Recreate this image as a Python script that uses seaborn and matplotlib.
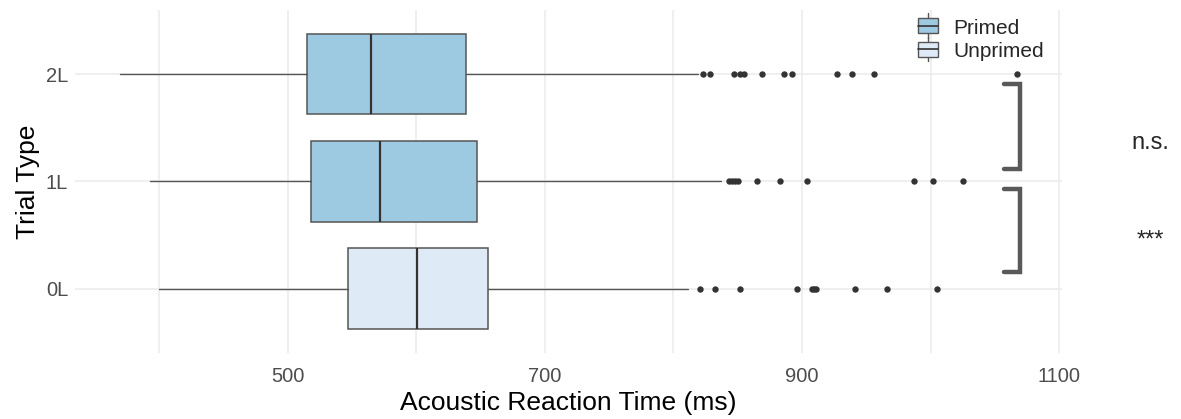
import pandas as pd
import matplotlib.pyplot as plt
import seaborn as sns
from matplotlib.patches import Patch, Rectangle
from matplotlib.lines import Line2D
from matplotlib.legend_handler import HandlerPatch

# Box summary values (ms)
trial_types = ["2L", "1L", "0L"]
condition = ["Primed", "Primed", "Unprimed"]
whisker_low = [369.6, 393.0, 399.7]
q1 = [515.0, 518.4, 547.0]
median = [564.7, 571.7, 600.3]
q3 = [638.7, 647.3, 656.1]
whisker_high = [819.3, 837.4, 811.5]

# Outliers
outliers_2L = [822.8, 828.3, 847.0, 852.2, 854.8, 869.1, 886.0, 892.5, 927.5, 938.7, 956.1, 1067.0]
outliers_1L = [843.1, 845.7, 848.3, 850.1, 864.7, 882.9, 904.2, 987.3, 1001.8, 1025.4]
outliers_0L = [820.5, 832.7, 851.7, 896.4, 908.1, 909.6, 911.2, 941.3, 965.8, 1004.7]

x_ticks = [500, 700, 900, 1100]
x_minor = [400, 600, 800, 1000]

sig_labels = ["n.s.", "***"]

palette = {"Primed": "#9ECAE1", "Unprimed": "#DEEBF7"}


class BoxKey(HandlerPatch):
    # little boxplot glyph like the ggplot key
    def create_artists(self, legend, orig, xd, yd, w, h, fontsize, trans):
        cx = xd + w / 2
        box = Rectangle((xd, yd), w, h, facecolor=orig.get_facecolor(),
                        edgecolor="#555555", linewidth=1.0, transform=trans)
        mid = Line2D([xd, xd + w], [yd + h / 2, yd + h / 2], color="#333333", lw=1.2, transform=trans)
        wh = Line2D([cx, cx], [yd - h * 0.3, yd + h * 1.3], color="#555555", lw=1.0, transform=trans)
        return [wh, box, mid]


sns.set_theme(style="whitegrid")
plt.rcParams["font.family"] = ["Liberation Sans", "DejaVu Sans"]

fig = plt.figure(figsize=(11.81, 4.19), dpi=100)
ax = fig.add_axes([0.0635, 0.158, 0.8355, 0.818])

rows = []
for t, vals in zip(trial_types, [outliers_2L, outliers_1L, outliers_0L]):
    for v in vals:
        rows.append((t, v))
df_out = pd.DataFrame(rows, columns=["Trial Type", "RT"])

sns.stripplot(data=df_out, x="RT", y="Trial Type", order=trial_types, jitter=False,
              color="#333333", size=4.6, linewidth=0, ax=ax, zorder=3)

stats = []
for i in range(len(trial_types)):
    stats.append(dict(med=median[i], q1=q1[i], q3=q3[i],
                      whislo=whisker_low[i], whishi=whisker_high[i], fliers=[]))

bp = ax.bxp(stats, positions=range(len(trial_types)), orientation="horizontal",
            widths=0.75, patch_artist=True, showcaps=False, manage_ticks=False,
            boxprops=dict(edgecolor="#555555", linewidth=1.1),
            medianprops=dict(color="#333333", linewidth=1.6),
            whiskerprops=dict(color="#555555", linewidth=1.0),
            zorder=2)
for patch, c in zip(bp["boxes"], condition):
    patch.set_facecolor(palette[c])

ax.set_xlim(334.7, 1102)
ax.set_ylim(2.6, -0.6)
ax.set_xticks(x_ticks)
ax.set_xticks(x_minor, minor=True)
ax.set_yticks(range(len(trial_types)))
ax.set_yticklabels(trial_types)
ax.grid(True, which="both", axis="x", color="#EBEBEB", linewidth=1.1)
ax.grid(True, which="major", axis="y", color="#EBEBEB", linewidth=1.1)
ax.tick_params(axis="both", which="both", length=0, labelsize=14.5, labelcolor="#4D4D4D")
ax.tick_params(axis="x", pad=10.5)
ax.tick_params(axis="y", pad=5)
for s in ax.spines.values():
    s.set_visible(False)

ax.set_xlabel("Acoustic Reaction Time (ms)", fontsize=19, color="black", labelpad=3)
ax.set_ylabel("Trial Type", fontsize=19, color="black", labelpad=4)

# significance brackets
br_x0, br_x1 = 1057.0, 1069.6
for top, bot in [(0.093, 0.888), (1.075, 1.85)]:
    ax.plot([br_x0, br_x1, br_x1, br_x0], [top, top, bot, bot], color="#595959",
            linewidth=3.2, solid_joinstyle="miter", clip_on=False, zorder=4)
for y, lab in zip([0.64, 1.55], sig_labels):
    ax.text(1171, y, lab, fontsize=17, ha="center", va="center", clip_on=False)

handles = [Patch(facecolor=palette[k], label=k) for k in ["Primed", "Unprimed"]]
ax.legend(handles=handles, loc="upper left", bbox_to_anchor=(0.854, 0.975), frameon=False,
          fontsize=15, handlelength=1.0, handleheight=0.75, handletextpad=0.7,
          labelspacing=0.22, borderaxespad=0, borderpad=0,
          handler_map={Patch: BoxKey()})

fig.savefig("out.png", dpi=100)
